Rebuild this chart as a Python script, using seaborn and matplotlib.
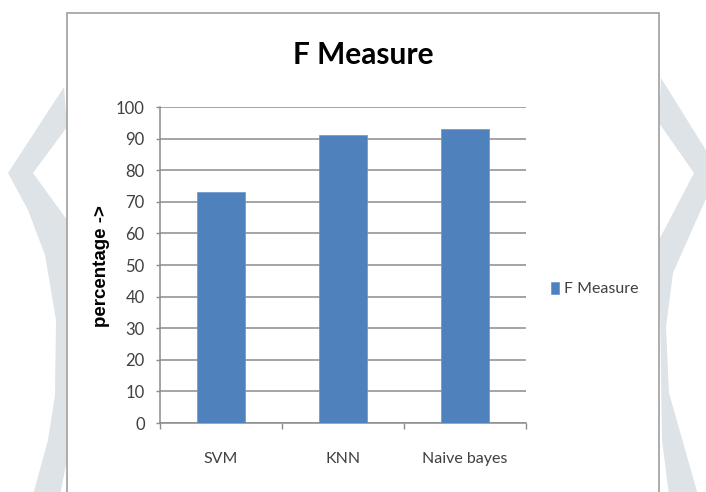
import matplotlib
matplotlib.use("Agg")
import matplotlib.pyplot as plt
import seaborn as sns
import pandas as pd
from matplotlib.patches import Polygon, Rectangle

categories = ["SVM", "KNN", "Naive bayes"]
values = [73, 91, 93]
series_name = "F Measure"
title = "F Measure"
ylabel = "percentage ->"
yticks = [0, 10, 20, 30, 40, 50, 60, 70, 80, 90, 100]

W, H = 706, 492
sns.set_theme(style="white")
MAIN = ["Lato", "DejaVu Sans"]
plt.rcParams["font.family"] = MAIN

fig = plt.figure(figsize=(W / 100, H / 100), dpi=100)

def fx(x):
    return x / W

def fy(y):
    return 1 - y / H

# watermark chevrons
wm = "#dde3e7"
left_pts = [(64, 87), (8, 173), (28, 210), (45, 255), (56, 320), (55, 395), (48, 440),
            (33, 495), (60, 495), (67, 460), (67, 220), (33, 173), (67, 127)]
right_pts = [(661, 78), (712, 160), (712, 185), (673, 273), (666, 327), (669, 393),
             (698, 495), (669, 495), (662, 440), (659, 240), (694, 173), (659, 123)]
for pts in (left_pts, right_pts):
    fig.patches.append(Polygon([(fx(x), fy(y)) for x, y in pts], closed=True,
                               facecolor=wm, edgecolor="none",
                               transform=fig.transFigure, zorder=-3))

# chart frame
fig.patches.append(Rectangle((fx(67), fy(500)), fx(659) - fx(67), fy(13) - fy(500),
                             facecolor="white", edgecolor="#a6a6a6", linewidth=1.3,
                             transform=fig.transFigure, zorder=-2))

ax = fig.add_axes([fx(160), fy(423), fx(526) - fx(160), fy(107) - fy(423)])
ax.patch.set_visible(False)

df = pd.DataFrame({"model": categories, "value": values})
sns.barplot(data=df, x="model", y="value", color="#4f81bd", width=0.4,
            saturation=1, ax=ax, zorder=3, edgecolor="#6a95c9", linewidth=0.5)

ax.set_xlim(-0.5, len(categories) - 0.5)
ax.set_ylim(0, 100)
ax.set_yticks(yticks)
ax.set_yticklabels([str(v) for v in yticks])
ax.yaxis.grid(True, color="#8c8c8c", linewidth=1.1, zorder=0)
ax.set_axisbelow(True)
for s in ["top", "right"]:
    ax.spines[s].set_visible(False)
for s in ["left", "bottom"]:
    ax.spines[s].set_color("#8c8c8c")
    ax.spines[s].set_linewidth(1.1)

ax.set_xlabel("")
ax.set_ylabel("")
ax.tick_params(axis="y", length=3, width=1.0, color="#8c8c8c", pad=8,
               labelsize=12, labelcolor="#404040", left=True)
ax.set_xticks(range(len(categories)))
ax.set_xticklabels(categories)
ax.set_xticks([i - 0.5 for i in range(len(categories) + 1)], minor=True)
ax.tick_params(axis="x", which="major", length=0, pad=21, labelsize=11.5,
               labelcolor="#404040")
ax.tick_params(axis="x", which="minor", length=4, width=1.0, color="#8c8c8c",
               bottom=True)

fig.text(fx(363), fy(55), title, ha="center", va="center", fontsize=21.5,
         fontweight="bold", color="black", family=MAIN)
fig.text(fx(101), fy(266), ylabel, ha="center", va="center", rotation=90,
         fontsize=13.5, fontweight="bold", color="black",
         family=["Liberation Sans", "DejaVu Sans"])

handle = ax.patches[0]
leg = fig.legend([handle], [series_name], loc="center left",
                 bbox_to_anchor=(fx(551), fy(289)), frameon=False,
                 fontsize=11.5, handlelength=0.5, handleheight=0.8,
                 handletextpad=0.3, borderpad=0, borderaxespad=0)
for t in leg.get_texts():
    t.set_color("#404040")

fig.savefig("out.png", dpi=100)
